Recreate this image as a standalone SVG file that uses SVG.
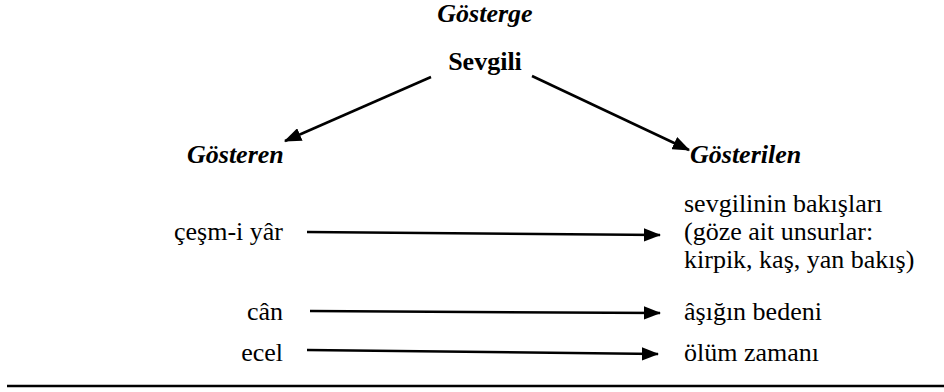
<svg xmlns="http://www.w3.org/2000/svg" width="944" height="392" viewBox="0 0 944 392" font-family="'Liberation Serif', 'Times New Roman', serif">
<style>
text{font-family:"Liberation Serif","Times New Roman",serif;font-size:26px;fill:#000}
.bi{font-weight:bold;font-style:italic}
.b{font-weight:bold}
.l{text-anchor:end}
.c{text-anchor:middle}
.ln{stroke:#000;stroke-width:2.5;fill:none;marker-end:url(#ah)}
</style>
<defs>
<marker id="ah" markerWidth="7" markerHeight="5.4" refX="6.5" refY="2.7" orient="auto" markerUnits="strokeWidth">
<path d="M0,0 L7,2.7 L0,5.4 Z" fill="#000"/>
</marker>
</defs>
<rect width="944" height="392" fill="#fff"/>
<g id="gosterge"><text class="bi c" x="485" y="22">Gösterge</text></g>
<g id="sevgili"><text class="b c" x="485" y="70">Sevgili</text></g>
<g id="gosteren"><text class="bi" x="187" y="163">Gösteren</text></g>
<g id="gosterilen"><text class="bi" x="690" y="163">Gösterilen</text></g>
<g id="cesm"><text class="l" x="283" y="240">çeşm-i yâr</text></g>
<g id="can"><text class="l" x="283" y="320">cân</text></g>
<g id="ecel"><text class="l" x="283" y="361">ecel</text></g>
<g id="bakis"><text x="684" y="212">sevgilinin bakışları</text><text x="684" y="240">(göze ait unsurlar:</text><text x="684" y="268">kirpik, kaş, yan bakış)</text></g>
<g id="beden"><text x="684" y="320">âşığın bedeni</text></g>
<g id="olum"><text x="684" y="361">ölüm zamanı</text></g>
<g id="connectors">
<line class="ln" x1="431" y1="77" x2="285" y2="141"/>
<line class="ln" x1="532" y1="76" x2="689" y2="150"/>
<line class="ln" x1="307" y1="232" x2="660" y2="235"/>
<line class="ln" x1="310" y1="311" x2="660" y2="313"/>
<line class="ln" x1="307" y1="350" x2="658" y2="354"/>
</g>
<line x1="7" y1="386" x2="944" y2="386" stroke="#000" stroke-width="2.5"/>
</svg>
